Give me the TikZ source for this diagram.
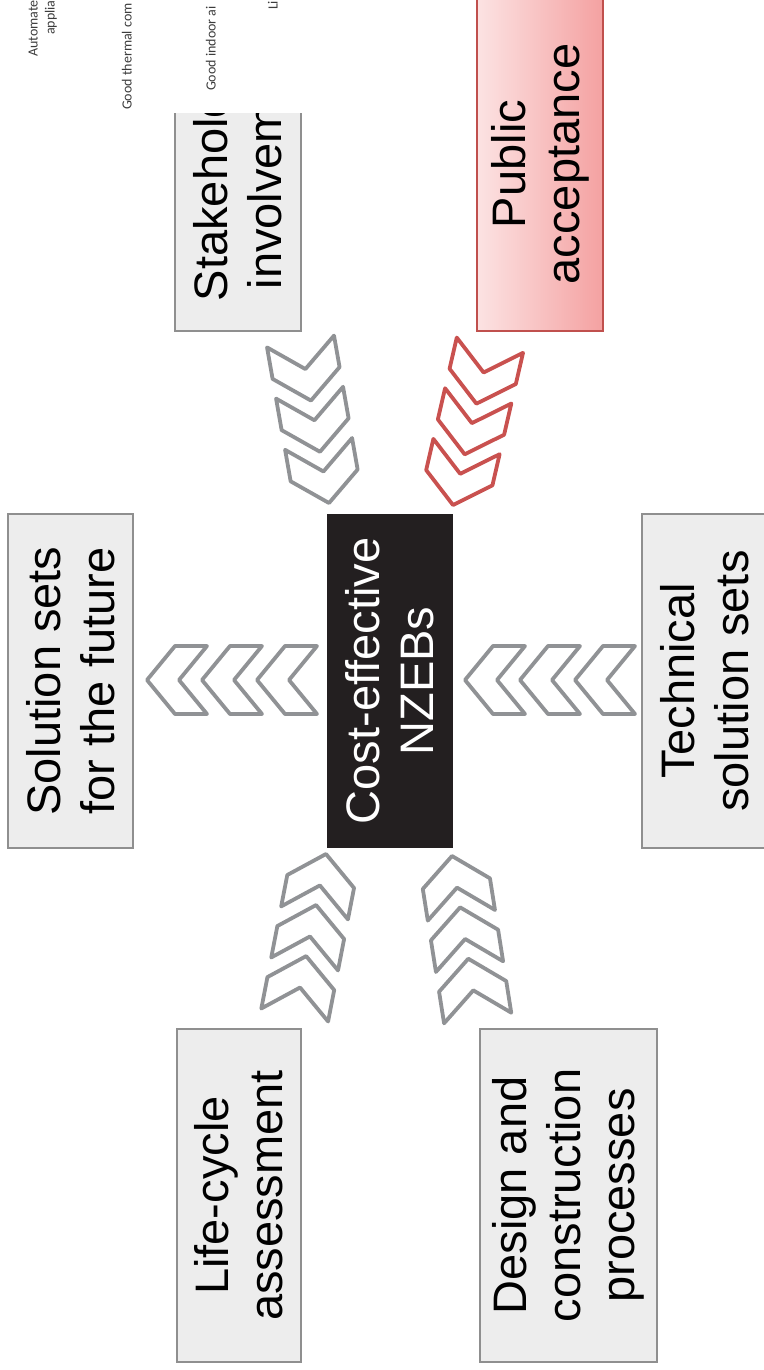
\documentclass[tikz,border=0pt]{standalone}
\usepackage{fontspec}
\setmainfont{Liberation Sans}
\newfontfamily\notefont{Carlito}

\definecolor{boxfill}{HTML}{EDEDED}
\definecolor{boxline}{HTML}{8F8F8F}
\definecolor{corefill}{HTML}{231F20}
\definecolor{chevgray}{HTML}{909295}
\definecolor{chevred}{HTML}{C9514F}
\definecolor{pinklight}{HTML}{FCE3E3}
\definecolor{pinkdark}{HTML}{F4A1A1}
\definecolor{pinkline}{HTML}{C0504D}
\definecolor{notetext}{HTML}{3C3C3C}

\begin{document}
\begin{tikzpicture}[x=1pt, y=-1pt,
  every node/.style={inner sep=0pt, outer sep=0pt},
  bigtext/.style={font=\fontsize{47}{54}\selectfont, align=center, rotate=90},
  graybox/.style={bigtext, draw=boxline, line width=1.4pt, fill=boxfill,
    minimum width=334pt, minimum height=125pt},
  corebox/.style={bigtext, fill=corefill, text=white,
    minimum width=334pt, minimum height=126pt},
  pinkbox/.style={bigtext, draw=pinkline, line width=1.8pt,
    left color=pinklight, right color=pinkdark,
    minimum width=334pt, minimum height=126pt},
  note/.style={font=\notefont\fontsize{14}{17}\selectfont, text=notetext,
    rotate=90, anchor=base west},
  chevline/.style={line width=3.8pt, line join=round},
  % three outlined chevrons, the first with its tip at the pic origin
  chevrow/.pic={
    \foreach \k in {0,1,2}{
      \draw[chevline, shift={(-\k*#1,0)}]
        (0,0) -- (-28,34) -- (-60,34) -- (-32,0) -- (-60,-34) -- (-28,-34) -- cycle;
    }
  }
]
\useasboundingbox (0,0) rectangle (763,1370);

% side panels and the core
\node[graybox] (future) at (70.5,681) {Solution sets\\for the future};
\node[corebox] (core) at (390,681) {Cost-effective\\NZEBs};
\node[graybox] (tech) at (704.5,681) {Technical\\solution sets};
\node[graybox, minimum width=333pt, minimum height=124pt] (lca) at (239,1195.5)
  {Life-cycle\\assessment};
\node[graybox, minimum width=333pt, minimum height=177pt] (design) at (568.5,1195.5)
  {Design and\\construction\\processes};
\begin{scope}
  \clip (0,114) rectangle (763,1370);
  \node[graybox, minimum height=126pt] (stake) at (238,164)
    {Stakeholders\\involvement};
\end{scope}
\node[pinkbox] (public) at (540,164) {Public\\acceptance};

% chevron rows
\pic[rotate=180, color=chevgray] (rowL) at (147,680) {chevrow=55};
\pic[rotate=180, color=chevgray] (rowR) at (465,680) {chevrow=55};
\pic[rotate=-80, color=chevgray] (rowTL) at (329,503) {chevrow=52};
\pic[rotate=-103, color=chevred] (rowTR) at (453,505) {chevrow=52};
\pic[rotate=79, color=chevgray] (rowBL) at (326,854) {chevrow=52};
\pic[rotate=99, color=chevgray] (rowBR) at (452,856) {chevrow=52};

% small labels along the top edge
\node[note] (n1) at (37.5,57) {Automate};
\node[note] (n2) at (54.5,35) {applia};
\node[note] (n3) at (131.5,110) {Good thermal com};
\node[note] (n4) at (215.5,91) {Good indoor ai};
\node[note] (n5) at (277.5,10) {Li};
\end{tikzpicture}
\end{document}
